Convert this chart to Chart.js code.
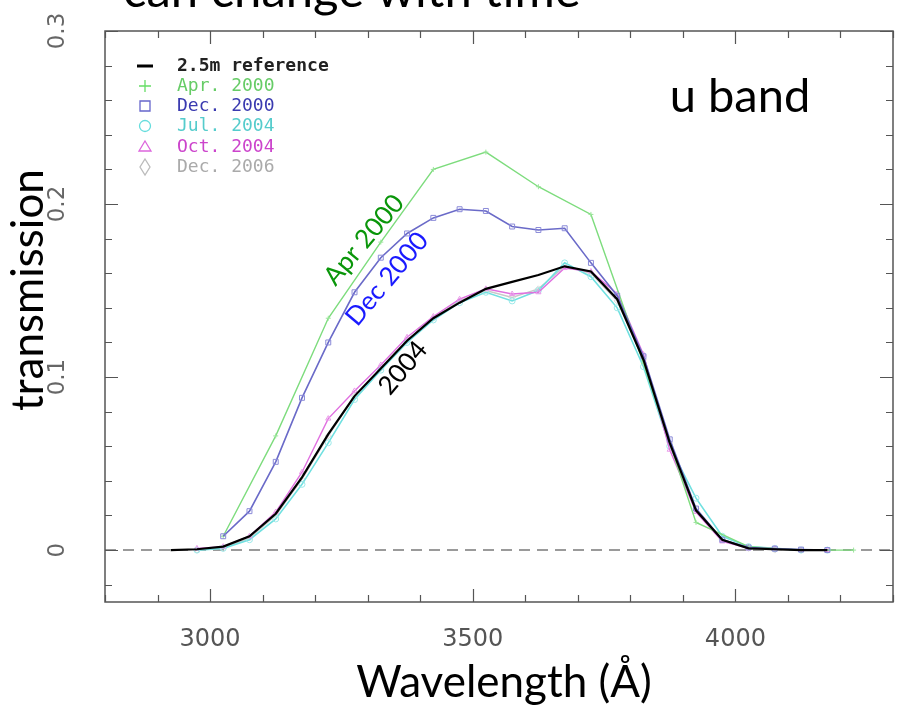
<!DOCTYPE html>
<html>
<head>
<meta charset="utf-8">
<script src="https://cdn.jsdelivr.net/npm/chart.js@4.4.1/dist/chart.umd.min.js"></script>
<style>
  html, body { margin: 0; padding: 0; background: #fff; }
  #wrap { width: 903px; height: 710px; position: relative; }
</style>
</head>
<body>
<div id="wrap"><canvas id="chartU"></canvas></div>
<script>
// u band filter transmission curves

// wavelengths (Angstrom)
const wlRef = [2925, 2975, 3025, 3075, 3125, 3175, 3225, 3275, 3325, 3375, 3425, 3475, 3525,
               3575, 3625, 3675, 3725, 3775, 3825, 3875, 3925, 3975, 4025, 4075, 4125, 4175];
const wlApr2000 = [3025, 3125, 3225, 3325, 3425, 3525, 3625, 3725, 3825, 3925, 4025, 4125, 4225];
const wlDec2000 = [3025, 3075, 3125, 3175, 3225, 3275, 3325, 3375, 3425, 3475, 3525, 3575,
                   3625, 3675, 3725, 3775, 3825, 3875, 3925, 3975, 4025, 4075, 4125, 4175];
const wl2004 = [2975, 3025, 3075, 3125, 3175, 3225, 3275, 3325, 3375, 3425, 3475, 3525, 3575,
                3625, 3675, 3725, 3775, 3825, 3875, 3925, 3975, 4025, 4075, 4125, 4175];

// transmission values
const tRef     = [0, 0.0005, 0.002, 0.008, 0.021, 0.042, 0.067, 0.089, 0.105, 0.121, 0.134, 0.143, 0.151,
                  0.155, 0.159, 0.164, 0.161, 0.145, 0.110, 0.062, 0.023, 0.006, 0.001, 0.0005, 0, 0];
const tApr2000 = [0.008, 0.066, 0.134, 0.178, 0.220, 0.230, 0.210, 0.194, 0.108, 0.016, 0.002, 0, 0];
const tDec2000 = [0.008, 0.0225, 0.051, 0.088, 0.120, 0.149, 0.169, 0.183, 0.192, 0.197, 0.196, 0.187,
                  0.185, 0.186, 0.166, 0.147, 0.112, 0.064, 0.024, 0.006, 0.0015, 0.0008, 0.0003, 0];
const tJul2004 = [0, 0.001, 0.006, 0.018, 0.038, 0.062, 0.087, 0.104, 0.120, 0.133, 0.143, 0.149, 0.144,
                  0.150, 0.166, 0.158, 0.140, 0.106, 0.060, 0.030, 0.008, 0.002, 0.001, 0, 0];
const tOct2004 = [0.001, 0.002, 0.008, 0.022, 0.045, 0.076, 0.092, 0.107, 0.123, 0.135, 0.145, 0.151, 0.148,
                  0.149, 0.163, 0.161, 0.148, 0.113, 0.058, 0.022, 0.005, 0.001, 0.001, 0, 0];
const tDec2006 = [0, 0.001, 0.007, 0.020, 0.041, 0.066, 0.089, 0.105, 0.121, 0.134, 0.144, 0.150, 0.146,
                  0.151, 0.164, 0.160, 0.144, 0.110, 0.062, 0.024, 0.006, 0.001, 0, 0, 0];

// axis ticks
const xLabelTicks = [3000, 3500, 4000];
const yLabelTicks = [0, 0.1, 0.2, 0.3];
const xMinorStep = 100;
const yMinorStep = 0.02;

const legendLabels = ['2.5m reference', 'Apr. 2000', 'Dec. 2000', 'Jul. 2004', 'Oct. 2004', 'Dec. 2006'];

function pts(xs, ys) {
    return xs.map((x, i) => ({ x: x, y: ys[i] }));
}

// frame, inward ticks, dashed zero line, legend and text
const framePlugin = {
    id: 'frame',
    beforeDatasetsDraw(chart) {
        const ctx = chart.ctx, a = chart.chartArea, ys = chart.scales.y;
        const y0 = ys.getPixelForValue(0);
        ctx.save();
        ctx.strokeStyle = '#9a9a9a';
        ctx.lineWidth = 2;
        ctx.setLineDash([11, 7]);
        ctx.beginPath();
        ctx.moveTo(a.left, y0);
        ctx.lineTo(a.right, y0);
        ctx.stroke();
        ctx.restore();
    },
    afterDraw(chart) {
        const ctx = chart.ctx, a = chart.chartArea;
        const xs = chart.scales.x, ys = chart.scales.y;
        ctx.save();
        ctx.strokeStyle = '#555';
        ctx.lineWidth = 1.5;
        ctx.strokeRect(a.left, a.top, a.right - a.left, a.bottom - a.top);

        // x ticks, top and bottom
        ctx.lineWidth = 1.2;
        ctx.beginPath();
        for (let v = xs.min; v <= xs.max + 1e-6; v += xMinorStep) {
            const px = Math.round(xs.getPixelForValue(v)) + 0.5;
            const len = xLabelTicks.includes(v) ? 13 : 7;
            ctx.moveTo(px, a.bottom); ctx.lineTo(px, a.bottom - len);
            ctx.moveTo(px, a.top); ctx.lineTo(px, a.top + len);
        }
        // y ticks, left and right
        for (let k = 0; ; k++) {
            const v = -0.02 + k * yMinorStep;
            if (v > ys.max + 1e-6) break;
            if (v < ys.min) continue;
            const py = Math.round(ys.getPixelForValue(v)) + 0.5;
            const major = yLabelTicks.some(t => Math.abs(t - v) < 1e-6);
            const len = major ? 13 : 7;
            ctx.moveTo(a.left, py); ctx.lineTo(a.left + len, py);
            ctx.moveTo(a.right, py); ctx.lineTo(a.right - len, py);
        }
        ctx.stroke();

        // rotated y tick labels
        ctx.fillStyle = '#666';
        ctx.font = '23px "DejaVu Sans"';
        ctx.textAlign = 'center';
        ctx.textBaseline = 'middle';
        yLabelTicks.forEach(t => {
            ctx.save();
            ctx.translate(58, ys.getPixelForValue(t));
            ctx.rotate(-Math.PI / 2);
            ctx.fillText(String(t), 0, 0);
            ctx.restore();
        });

        // legend
        const lx = 145, rows = [66, 86, 106, 126, 147, 167];
        const lineCols = ['#000', '#66dd66', '#6666cc', '#66dddd', '#dd66dd', '#bbbbbb'];
        const textCols = ['#222', '#66cc66', '#3a3ab0', '#55cccc', '#cc44cc', '#aaaaaa'];
        ctx.lineWidth = 1.3;
        rows.forEach((ry, i) => {
            ctx.strokeStyle = lineCols[i];
            ctx.beginPath();
            if (i === 0) {
                ctx.lineWidth = 3;
                ctx.moveTo(lx - 8, ry); ctx.lineTo(lx + 8, ry);
            } else if (i === 1) {
                ctx.moveTo(lx - 6, ry); ctx.lineTo(lx + 6, ry);
                ctx.moveTo(lx, ry - 6); ctx.lineTo(lx, ry + 6);
            } else if (i === 2) {
                ctx.rect(lx - 5, ry - 5, 10, 10);
            } else if (i === 3) {
                ctx.arc(lx, ry, 5.5, 0, Math.PI * 2);
            } else if (i === 4) {
                ctx.moveTo(lx, ry - 6); ctx.lineTo(lx + 6, ry + 4); ctx.lineTo(lx - 6, ry + 4); ctx.closePath();
            } else {
                ctx.moveTo(lx, ry - 8); ctx.lineTo(lx + 5, ry); ctx.lineTo(lx, ry + 8); ctx.lineTo(lx - 5, ry); ctx.closePath();
            }
            ctx.stroke();
            ctx.lineWidth = 1.3;
            ctx.fillStyle = textCols[i];
            ctx.font = (i === 0 ? 'bold ' : '') + '18px "DejaVu Sans Mono"';
            ctx.textAlign = 'left';
            ctx.textBaseline = 'middle';
            ctx.fillText(legendLabels[i], 177, ry);
        });

        // curve labels
        const notes = [
            { text: 'Apr 2000', x: 364, y: 240, color: '#0a960a' },
            { text: 'Dec 2000', x: 387, y: 279, color: '#1a1aff' },
            { text: '2004', x: 403, y: 368, color: '#000' }
        ];
        ctx.font = '26px Lato';
        ctx.textAlign = 'center';
        ctx.textBaseline = 'middle';
        notes.forEach(n => {
            ctx.save();
            ctx.translate(n.x, n.y);
            ctx.rotate(-50 * Math.PI / 180);
            ctx.fillStyle = n.color;
            ctx.fillText(n.text, 0, 0);
            ctx.restore();
        });

        // big texts
        ctx.fillStyle = '#000';
        ctx.font = '47px Lato';
        ctx.fillText('u band', 740, 97);
        ctx.font = '44px Lato';
        ctx.fillText('Wavelength (\u00c5)', 504, 683);
        ctx.save();
        ctx.translate(29, 290);
        ctx.rotate(-Math.PI / 2);
        ctx.font = '44px Lato';
        ctx.fillText('transmission', 0, 0);
        ctx.restore();
        ctx.font = '49px Lato';
        ctx.textAlign = 'left';
        ctx.textBaseline = 'alphabetic';
        ctx.fillText('can change with time', 123, 7);
        ctx.restore();
    }
};

document.addEventListener('DOMContentLoaded', function() {
    const canvas = document.getElementById('chartU');
    canvas.width = 903;
    canvas.height = 710;
    new Chart(canvas.getContext('2d'), {
        type: 'scatter',
        data: {
            datasets: [
                { label: '2.5m reference', data: pts(wlRef, tRef), borderColor: '#000', borderWidth: 2.2, pointRadius: 0 },
                { label: 'Dec. 2000', data: pts(wlDec2000, tDec2000), borderColor: '#6a6ac8', borderWidth: 1.6,
                  pointStyle: 'rect', pointRadius: 3.5, pointBorderColor: '#8a8ad8', pointBackgroundColor: 'rgba(0,0,0,0)', pointBorderWidth: 1 },
                { label: 'Apr. 2000', data: pts(wlApr2000, tApr2000), borderColor: '#7ddc7d', borderWidth: 1.4,
                  pointStyle: 'cross', pointRadius: 2.5, pointBorderColor: '#9be59b', pointBorderWidth: 1 },
                { label: 'Oct. 2004', data: pts(wl2004, tOct2004), borderColor: '#e070e0', borderWidth: 1.4,
                  pointStyle: 'triangle', pointRadius: 3, pointBorderColor: '#e99be9', pointBackgroundColor: 'rgba(0,0,0,0)', pointBorderWidth: 1 },
                { label: 'Jul. 2004', data: pts(wl2004, tJul2004), borderColor: '#70e0e0', borderWidth: 1.6,
                  pointStyle: 'circle', pointRadius: 3, pointBorderColor: '#9be9e9', pointBackgroundColor: 'rgba(0,0,0,0)', pointBorderWidth: 1 },
                { label: 'Dec. 2006', data: pts(wl2004, tDec2006), borderColor: '#c8c8c8', borderWidth: 1.4,
                  pointStyle: 'rectRot', pointRadius: 3, pointBorderColor: '#d8d8d8', pointBackgroundColor: 'rgba(0,0,0,0)', pointBorderWidth: 1 }
            ].map(d => Object.assign({ showLine: true, tension: 0, fill: false }, d))
        },
        options: {
            responsive: false,
            animation: false,
            layout: { padding: { left: 0, right: 10, top: 31, bottom: 0 } },
            plugins: { legend: { display: false }, tooltip: { enabled: false } },
            scales: {
                x: {
                    type: 'linear', min: 2800, max: 4300,
                    afterBuildTicks: s => { s.ticks = xLabelTicks.map(v => ({ value: v })); },
                    afterFit: s => { s.height = 108; },
                    grid: { display: false },
                    border: { display: false },
                    ticks: { padding: 15, color: '#555', font: { family: 'DejaVu Sans', size: 24 }, autoSkip: false, maxRotation: 0,
                             callback: v => String(v) }
                },
                y: {
                    type: 'linear', min: -0.03, max: 0.3,
                    afterBuildTicks: s => { s.ticks = yLabelTicks.map(v => ({ value: v })); },
                    afterFit: s => { s.width = 105; },
                    grid: { display: false },
                    border: { display: false },
                    ticks: { display: false }
                }
            }
        },
        plugins: [framePlugin]
    });
});
</script>
</body>
</html>
